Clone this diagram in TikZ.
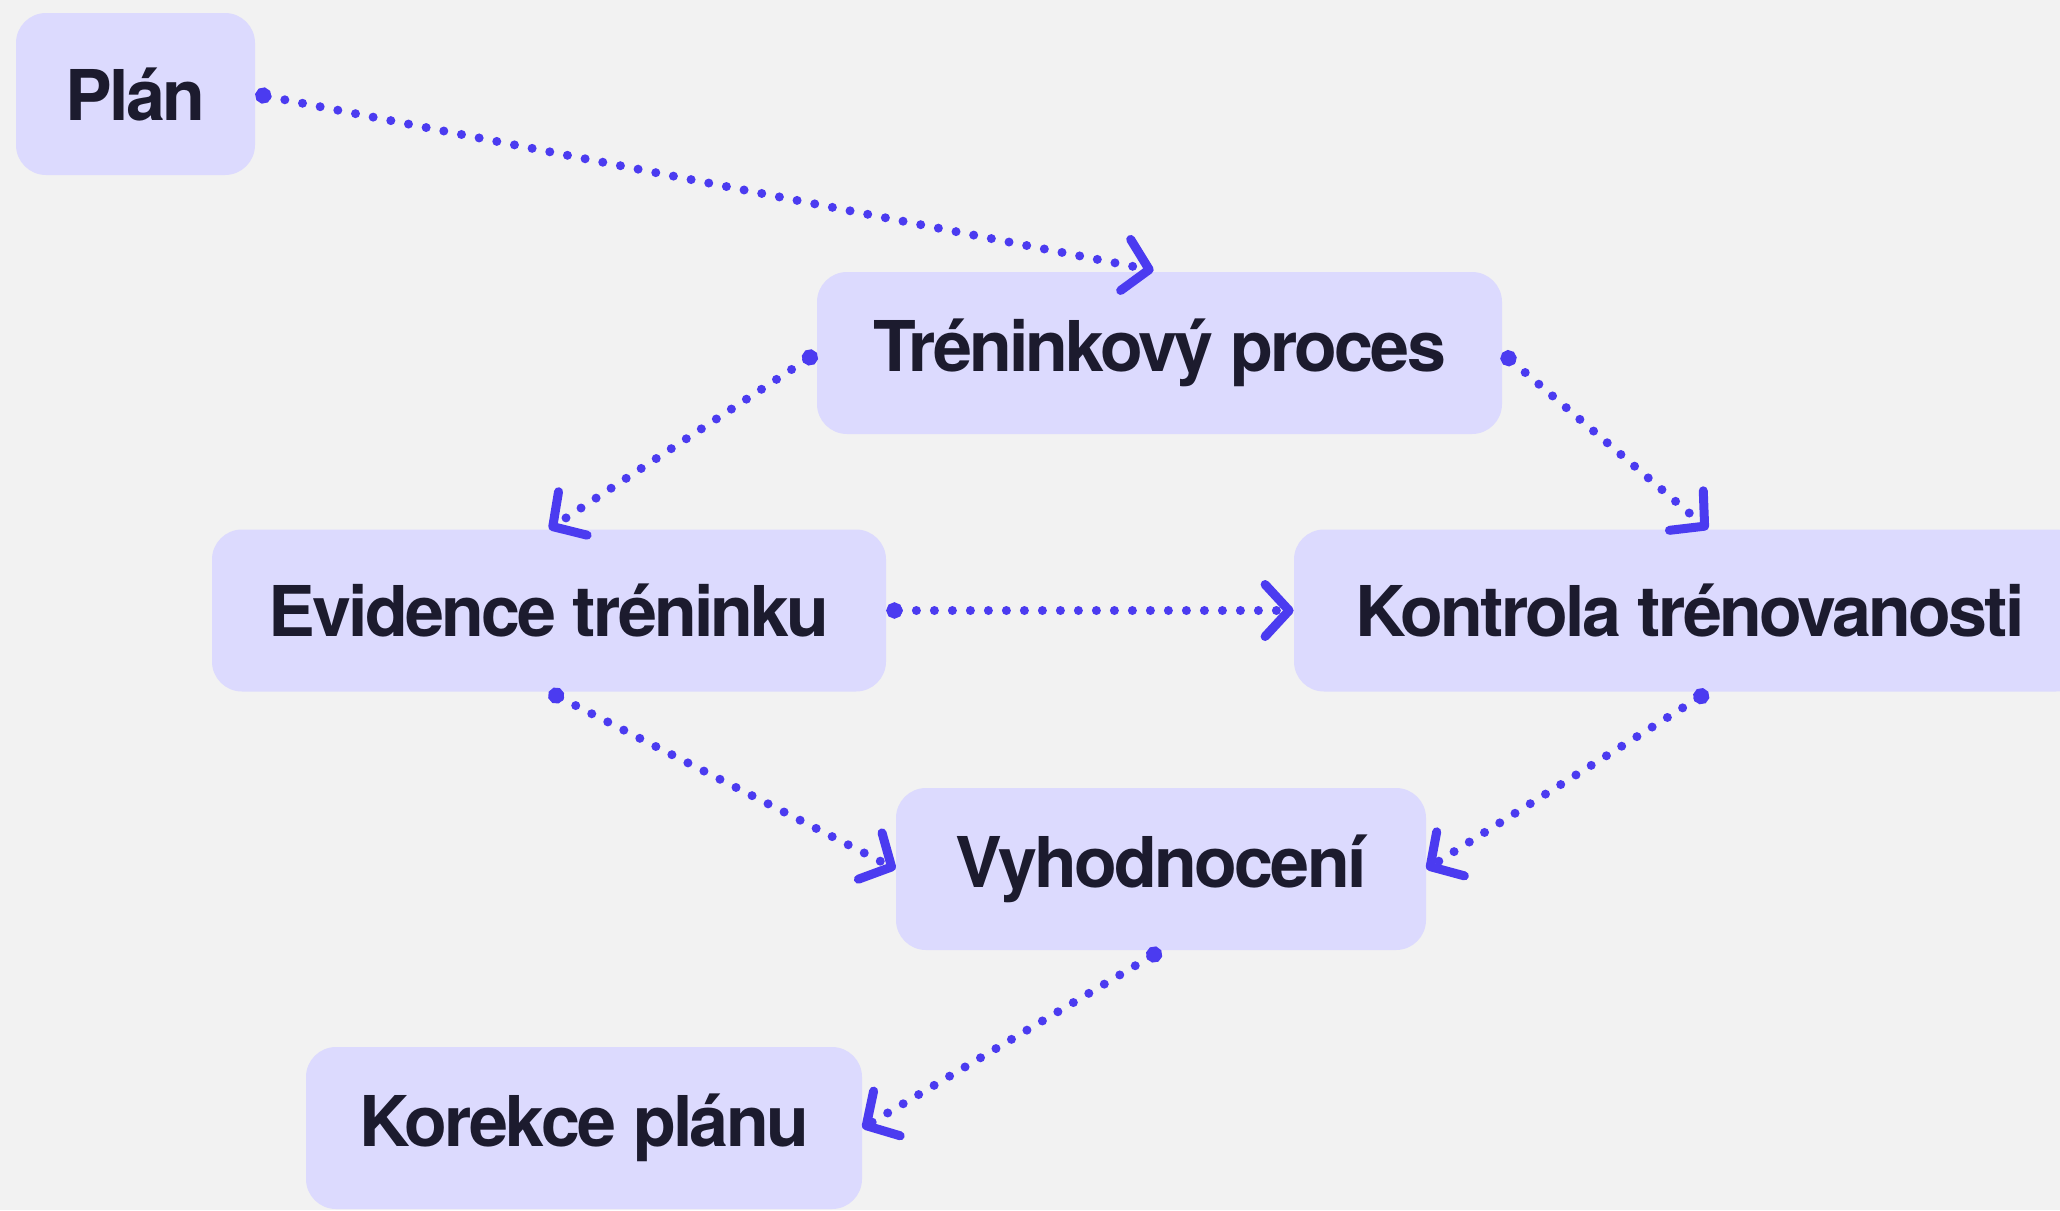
\documentclass[tikz,border=0pt]{standalone}
\usepackage{fontspec}
\setmainfont{TeX Gyre Heros}[LetterSpace=-4]
\usetikzlibrary{arrows.meta}
\definecolor{bgcol}{HTML}{F2F2F2}
\definecolor{boxcol}{HTML}{DCDAFE}
\definecolor{linecol}{HTML}{4B3BF0}
\definecolor{textcol}{HTML}{1C1B2E}

\begin{document}
\begin{tikzpicture}[x=0.5pt, y=-0.5pt,
		stage/.style={rectangle, rounded corners=15pt, fill=boxcol, text=textcol, inner sep=0pt,
			minimum height=81pt, font=\fontsize{35}{42}\selectfont\bfseries},
		flow/.style={linecol, line width=4.5pt, line cap=round, dash pattern=on 0pt off 9pt,
			{Circle[length=8pt]}-{Straight Barb[length=12pt, width=26pt, line cap=round, line join=round]}}]
			\fill[bgcol] (0, 0) rectangle (2060, 1210);
			\useasboundingbox (0, 0) rectangle (2060, 1210);

			\node[stage, minimum width=119.5pt] (plan) at (135.5, 94) {Plán};
			\node[stage, minimum width=342.5pt] (tren) at (1159.5, 353) {Tréninkový proces};
			\node[stage, minimum width=337pt] (evid) at (549, 610.5) {Evidence tréninku};
			\node[stage, minimum width=396pt] (kontr) at (1690, 610.5) {Kontrola trénovanosti};
			\node[stage, minimum width=265pt] (vyhod) at (1161, 869) {Vyhodnocení};
			\node[stage, minimum width=278pt] (korek) at (584, 1128) {Korekce plánu};

			\draw[flow, shorten >=3pt] (plan.east) -- (tren.north);
			\draw[flow] (tren.west) -- (evid.north);
			\draw[flow] (tren.east) -- ([xshift=9pt]kontr.north);
			\draw[flow] (evid.east) -- (kontr.west);
			\draw[flow] (evid.south) -- (vyhod.west);
			\draw[flow] ([xshift=9pt]kontr.south) -- (vyhod.east);
			\draw[flow] (vyhod.south) -- (korek.east);
		\end{tikzpicture}
\end{document}
